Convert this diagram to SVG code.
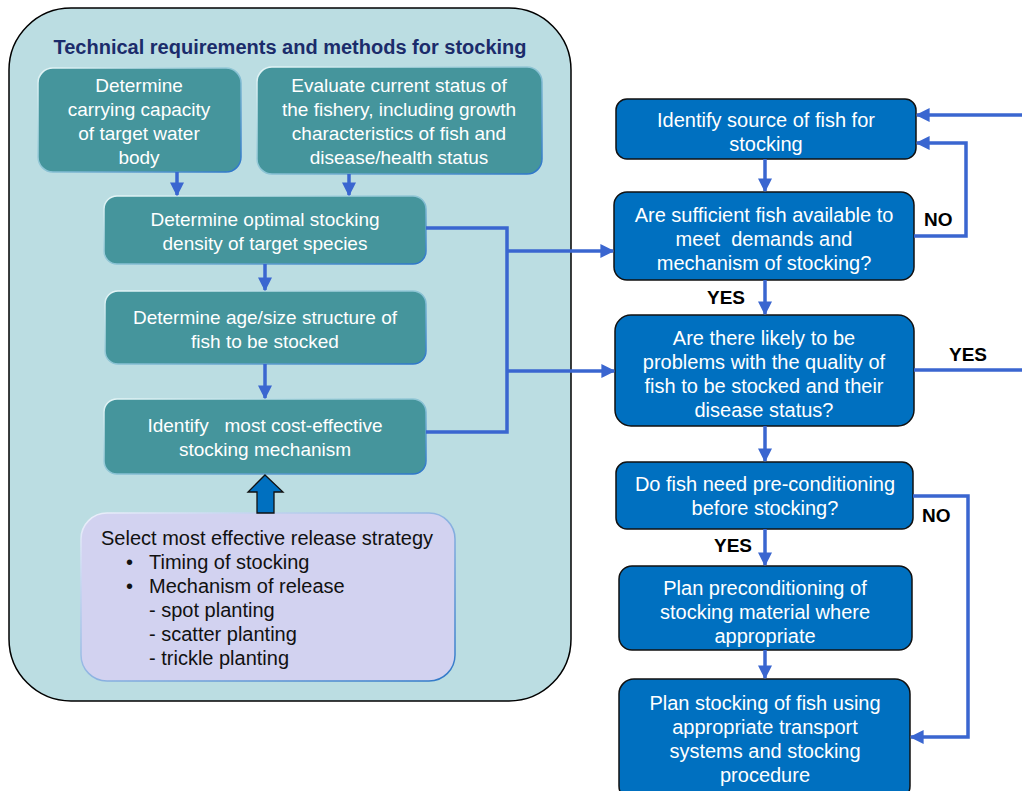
<svg xmlns="http://www.w3.org/2000/svg" width="1022" height="791" viewBox="0 0 1022 791">
  <defs>
    <linearGradient id="tealEdge" x1="0" y1="0" x2="1" y2="1">
      <stop offset="0" stop-color="#e6f6f7"/>
      <stop offset="0.5" stop-color="#8cc4d4"/>
      <stop offset="1" stop-color="#2b74c9"/>
    </linearGradient>
    <linearGradient id="lavEdge" x1="0" y1="0" x2="1" y2="1">
      <stop offset="0" stop-color="#eef0fb"/>
      <stop offset="1" stop-color="#2f78c8"/>
    </linearGradient>
    <marker id="arr" viewBox="0 0 10 10" refX="9" refY="5" markerWidth="4" markerHeight="4" orient="auto" markerUnits="strokeWidth">
      <path d="M0,0 L10,5 L0,10 z" fill="#3a66d0"/>
    </marker>
    <style>
      .frame { fill: #bbdde2; stroke: #000; stroke-width: 1.5; }
      .teal { fill: #45959c; stroke: url(#tealEdge); stroke-width: 1.5; }
      .lav { fill: #d2d2f0; stroke: url(#lavEdge); stroke-width: 1.5; }
      .blue { fill: #0070c0; stroke: #111; stroke-width: 1.5; }
      .t { font-family: "Liberation Sans", Arial, sans-serif; font-size: 20px; fill: #fff; text-anchor: middle; white-space: pre; }
      .tn { font-family: "Liberation Sans", Arial, sans-serif; font-size: 19px; fill: #fff; text-anchor: middle; white-space: pre; }
      .k { font-family: "Liberation Sans", Arial, sans-serif; font-size: 20px; fill: #111; }
      .title { font-family: "Liberation Sans", Arial, sans-serif; font-size: 20px; font-weight: bold; fill: #1b2c6b; text-anchor: middle; }
      .lbl { font-family: "Liberation Sans", Arial, sans-serif; font-size: 19px; font-weight: bold; fill: #000; }
      .c { fill: none; stroke: #3a66d0; stroke-width: 3.5; }
      .ca { fill: none; stroke: #3a66d0; stroke-width: 3.5; marker-end: url(#arr); }
    </style>
  </defs>

  <!-- outer container for the technical requirements block -->
  <g id="technical-block">
    <rect class="frame" x="9" y="8" width="562" height="693" rx="62"/>
    <text class="title" x="290" y="54">Technical requirements and methods for stocking</text>
  </g>

  <g id="carrying-capacity">
    <rect class="teal" x="38" y="68" width="203" height="104" rx="15"/>
    <text class="tn" x="139" y="92">Determine</text>
    <text class="tn" x="139" y="116">carrying capacity</text>
    <text class="tn" x="139" y="140">of target water</text>
    <text class="tn" x="139" y="164">body</text>
  </g>

  <g id="fishery-status">
    <rect class="teal" x="257" y="67" width="285" height="107" rx="15"/>
    <text class="tn" x="399" y="92">Evaluate current status of</text>
    <text class="tn" x="399" y="116">the fishery, including growth</text>
    <text class="tn" x="399" y="140">characteristics of fish and</text>
    <text class="tn" x="399" y="164">disease/health status</text>
  </g>

  <g id="stocking-density">
    <rect class="teal" x="104" y="196" width="322" height="68" rx="13"/>
    <text class="tn" x="265" y="226">Determine optimal stocking</text>
    <text class="tn" x="265" y="250">density of target species</text>
  </g>

  <g id="age-size">
    <rect class="teal" x="105" y="291" width="321" height="73" rx="13"/>
    <text class="tn" x="265" y="324">Determine age/size structure of</text>
    <text class="tn" x="265" y="348">fish to be stocked</text>
  </g>

  <g id="cost-effective">
    <rect class="teal" x="104" y="399" width="322" height="75" rx="13"/>
    <text class="tn" x="265" y="432">Identify   most cost-effective</text>
    <text class="tn" x="265" y="456">stocking mechanism</text>
  </g>

  <g id="release-strategy">
    <rect class="lav" x="81" y="513" width="374" height="168" rx="26"/>
    <text class="k" x="101" y="545">Select most effective release strategy</text>
    <text class="k" x="126" y="569">•</text>
    <text class="k" x="149" y="569">Timing of stocking</text>
    <text class="k" x="126" y="593">•</text>
    <text class="k" x="149" y="593">Mechanism of release</text>
    <text class="k" x="149" y="617">- spot planting</text>
    <text class="k" x="149" y="641">- scatter planting</text>
    <text class="k" x="149" y="665">- trickle planting</text>
  </g>

  <g id="release-block-arrow">
    <polygon points="265,475 283,492 274,492 274,513 257,513 257,492 248,492" fill="#0070c0" stroke="#111" stroke-width="1.3"/>
  </g>

  <g id="identify-source">
    <rect class="blue" x="616" y="99" width="300" height="60" rx="11"/>
    <text class="t" x="766" y="127">Identify source of fish for</text>
    <text class="t" x="766" y="151">stocking</text>
  </g>

  <g id="sufficient-fish">
    <rect class="blue" x="614" y="192" width="300" height="88" rx="13"/>
    <text class="t" x="764" y="222">Are sufficient fish available to</text>
    <text class="t" x="764" y="246">meet  demands and</text>
    <text class="t" x="764" y="270">mechanism of stocking?</text>
  </g>

  <g id="quality-problems">
    <rect class="blue" x="615" y="315" width="299" height="111" rx="16"/>
    <text class="t" x="764" y="345">Are there likely to be</text>
    <text class="t" x="764" y="369">problems with the quality of</text>
    <text class="t" x="764" y="393">fish to be stocked and their</text>
    <text class="t" x="764" y="417">disease status?</text>
  </g>

  <g id="pre-conditioning">
    <rect class="blue" x="616" y="462" width="297" height="67" rx="11"/>
    <text class="t" x="765" y="491">Do fish need pre-conditioning</text>
    <text class="t" x="765" y="515">before stocking?</text>
  </g>

  <g id="plan-preconditioning">
    <rect class="blue" x="619" y="566" width="293" height="84" rx="13"/>
    <text class="t" x="765" y="595">Plan preconditioning of</text>
    <text class="t" x="765" y="619">stocking material where</text>
    <text class="t" x="765" y="643">appropriate</text>
  </g>

  <g id="plan-stocking">
    <rect class="blue" x="619" y="679" width="291" height="122" rx="15"/>
    <text class="t" x="765" y="710">Plan stocking of fish using</text>
    <text class="t" x="765" y="734">appropriate transport</text>
    <text class="t" x="765" y="758">systems and stocking</text>
    <text class="t" x="765" y="782">procedure</text>
  </g>

  <g id="connectors">
    <!-- left column flow -->
    <path class="ca" d="M177,172 V195"/>
    <path class="ca" d="M349,174 V195"/>
    <path class="ca" d="M265,264 V290"/>
    <path class="ca" d="M265,364 V398"/>
    <!-- bracket joining density and mechanism outputs -->
    <path class="c" d="M426,228 H507 V432 H426"/>
    <path class="ca" d="M507,251 H613"/>
    <path class="ca" d="M507,371 H614"/>
    <!-- right column flow -->
    <path class="ca" d="M765,159 V191"/>
    <path class="ca" d="M765,280 V314"/>
    <path class="ca" d="M765,426 V461"/>
    <path class="ca" d="M765,529 V565"/>
    <path class="ca" d="M765,650 V678"/>
    <!-- NO loop back to source -->
    <path class="ca" d="M914,236 H966 V143 H917"/>
    <!-- return from off-page -->
    <path class="ca" d="M1022,115 H917"/>
    <!-- YES exit -->
    <path class="c" d="M914,370 H1022"/>
    <!-- NO bypass of preconditioning -->
    <path class="ca" d="M913,496 H968 V737 H911"/>
  </g>

  <g id="branch-labels">
    <text class="lbl" x="707" y="304">YES</text>
    <text class="lbl" x="924" y="226">NO</text>
    <text class="lbl" x="949" y="361">YES</text>
    <text class="lbl" x="922" y="522">NO</text>
    <text class="lbl" x="714" y="552">YES</text>
  </g>
</svg>
